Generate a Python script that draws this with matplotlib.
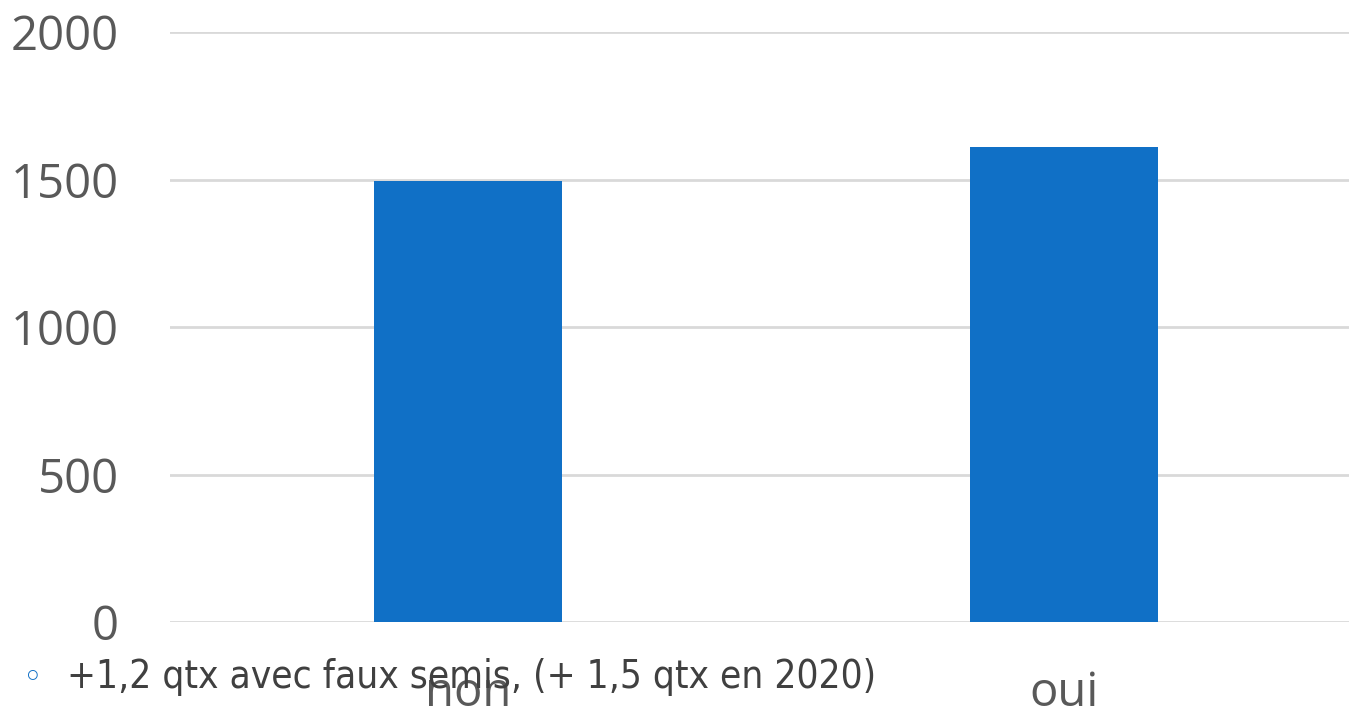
import matplotlib.pyplot as plt
import numpy as np

categories = ["non", "oui"]
values = [1495, 1610]
y_ticks = [0, 500, 1000, 1500, 2000]
note = "+1,2 qtx avec faux semis, (+ 1,5 qtx en 2020)"

plt.rcParams['font.family'] = ['Open Sans', 'DejaVu Sans']

fig = plt.figure(figsize=(13.49, 7.11), dpi=100)
ax = fig.add_axes([170 / 1349, 1 - 622 / 711, 1192 / 1349, 590 / 711])

x = np.arange(len(categories))
ax.bar(x, values, width=0.314, color="#1070C6", zorder=3)

ax.set_xlim(-0.5, 1.5)
ax.set_ylim(0, 2000)
ax.set_yticks(y_ticks)
ax.set_xticks(x)
ax.set_xticklabels(categories)
ax.yaxis.grid(True, color="#d9d9d9", linewidth=2, zorder=0)
ax.tick_params(axis="both", length=0, labelsize=34, colors="#595959")
ax.tick_params(axis="y", pad=37)
ax.tick_params(axis="x", pad=34)
for s in ax.spines.values():
    s.set_visible(False)

# bullet note over the bottom
fig.text(33 / 1349, 1 - 677 / 711, "\u25e6", fontsize=24, color="#1070C6",
         va="center", ha="center", family=["DejaVu Sans"])
fig.text(67 / 1349, 1 - 677 / 711, note, fontsize=27.8, color="#404040",
         va="center", ha="left", family=["DejaVu Sans"], stretch="condensed")

fig.savefig("out.png", dpi=100)
